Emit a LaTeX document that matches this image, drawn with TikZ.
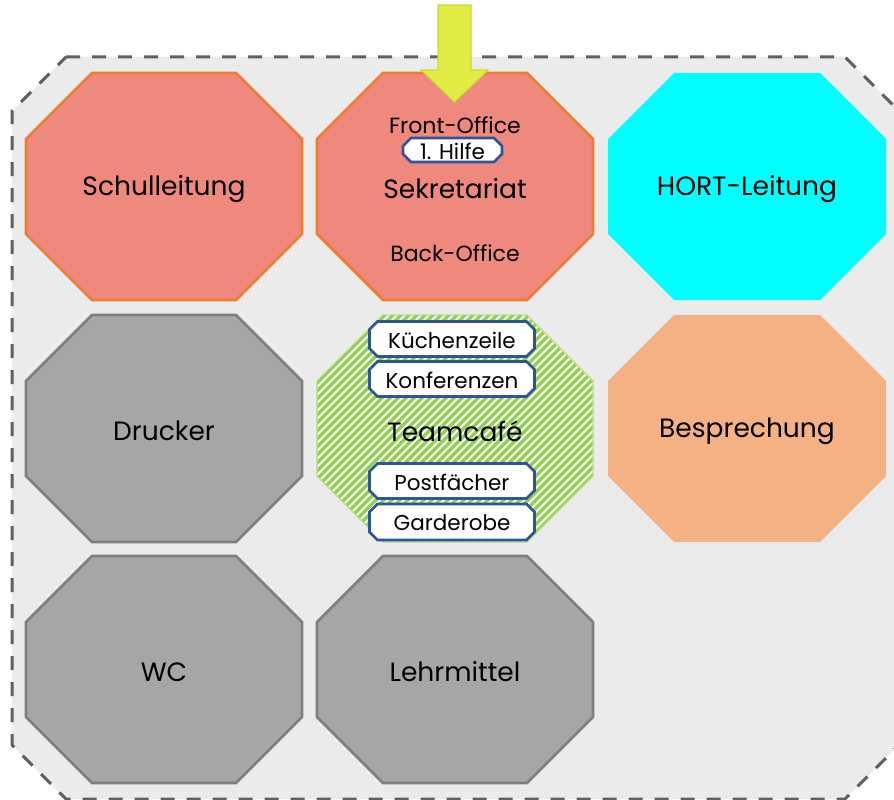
\documentclass[tikz,border=0pt]{standalone}
\usepackage{fontspec}
\setmainfont{Poppins}
\definecolor{roomgray}{HTML}{EBEBEB}
\definecolor{dashgray}{HTML}{5F5F5F}
\definecolor{salmon}{HTML}{F0897D}
\definecolor{orangeline}{HTML}{ED7D31}
\definecolor{cyanfill}{HTML}{00FFFF}
\definecolor{peach}{HTML}{F4B183}
\definecolor{midgray}{HTML}{A6A6A6}
\definecolor{darkgray}{HTML}{7F7F7F}
\definecolor{stripegreen}{HTML}{92D050}
\definecolor{boxblue}{HTML}{2F5597}
\definecolor{arrowfill}{HTML}{E1ED42}
\definecolor{arrowline}{HTML}{C9DA38}

% octagon centred at (#2,#3), half width #4, half height #5, chamfer #6
\newcommand\octagon[6]{%
  \path[#1] ({#2-#4+#6},{#3-#5}) -- ({#2+#4-#6},{#3-#5}) -- ({#2+#4},{#3-#5+#6})
    -- ({#2+#4},{#3+#5-#6}) -- ({#2+#4-#6},{#3+#5}) -- ({#2-#4+#6},{#3+#5})
    -- ({#2-#4},{#3+#5-#6}) -- ({#2-#4},{#3-#5+#6}) -- cycle;}

% small chamfered tag: name, centre x, centre y, half width, half height, text
\newcommand\tagbox[6]{%
  \octagon{tagline}{#2}{#3}{#4}{#5}{8}
  \node[tagtext] (#1) at (#2,{#3+1}) {#6};}

\tikzset{
  room/.style={fill=roomgray, draw=dashgray, line width=3pt, dash pattern=on 14pt off 12pt},
  redroom/.style={fill=salmon, draw=orangeline, line width=2.8pt, line join=miter},
  cyanroom/.style={fill=cyanfill},
  peachroom/.style={fill=peach},
  grayroom/.style={fill=midgray, draw=darkgray, line width=2.6pt},
  tagline/.style={fill=white, draw=boxblue, line width=2.6pt},
  biglabel/.style={font=\fontsize{26.5}{30}\selectfont, text=black, inner sep=0pt},
  smalllabel/.style={font=\fontsize{22}{25}\selectfont, text=black, inner sep=0pt},
  tagtext/.style={font=\fontsize{21.5}{24}\selectfont, text=black, inner sep=0pt},
}

\begin{document}
\begin{tikzpicture}[x=1pt, y=-1pt]
  \useasboundingbox (0,0) rectangle (894,800);
  \begin{scope}
    \clip (0,0) rectangle (894,800);
    % outer dashed room outline
    \octagon{room}{455.5}{428}{443.5}{371}{54}
  \end{scope}

  % row 1
  \octagon{redroom}{164}{186.5}{138}{113.5}{66}
  \node[biglabel] (schulleitung) at (164,189) {Schulleitung};
  \octagon{redroom}{455}{186.5}{138}{113.5}{66}
  \node[biglabel] (sekretariat) at (455,189) {Sekretariat};
  \node[smalllabel] (front) at (455,125) {Front-Office};
  \node[smalllabel] (back) at (455,253) {Back-Office};
  \octagon{cyanroom}{747}{186.5}{139}{113.5}{66}
  \node[biglabel] (hort) at (747,189) {HORT-Leitung};

  % row 2
  \octagon{grayroom}{164}{428.5}{138}{113.5}{66}
  \node[biglabel] (drucker) at (164,431) {Drucker};
  \begin{scope}
    \octagon{clip}{455}{428.5}{138}{113.5}{66}
    \fill[white] (300,300) rectangle (610,560);
    \foreach \k in {0,...,66}
      \draw[stripegreen, line width=3.4pt] ({80+8*\k},548) -- ++(240,-240);
  \end{scope}
  \octagon{draw=stripegreen!70, line width=1.2pt}{455}{428.5}{138}{113.5}{66}
  \node[biglabel] (teamcafe) at (455,431) {Teamcafé};
  \octagon{peachroom}{747}{428.5}{139}{113.5}{66}
  \node[biglabel] (besprechung) at (747,431) {Besprechung};

  % row 3
  \octagon{grayroom}{164}{669.5}{138}{113.5}{66}
  \node[biglabel] (wc) at (164,672) {WC};
  \octagon{grayroom}{455}{669.5}{138}{113.5}{66}
  \node[biglabel] (lehrmittel) at (455,672) {Lehrmittel};

  % entrance arrow
  \path[fill=arrowfill, draw=arrowline, line width=1.2pt]
    (438,5) -- (471,5) -- (471,70) -- (488,70) -- (454.5,102) -- (421,70) -- (438,70) -- cycle;

  % tags
  \tagbox{hilfe}{452.5}{150}{49.5}{12}{1. Hilfe}
  \tagbox{kueche}{452}{339}{82.5}{17.5}{Küchenzeile}
  \tagbox{konferenz}{452}{379}{82.5}{17.5}{Konferenzen}
  \tagbox{post}{452}{481}{82.5}{17.5}{Postfächer}
  \tagbox{garderobe}{452}{522}{82.5}{18}{Garderobe}
\end{tikzpicture}
\end{document}
